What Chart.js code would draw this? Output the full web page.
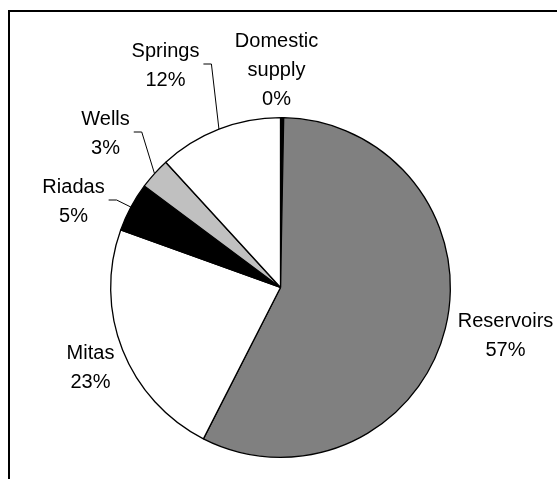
<!DOCTYPE html>
<html>
<head>
<meta charset="utf-8">
<title>Water sources</title>
<script src="https://cdn.jsdelivr.net/npm/chart.js@4/dist/chart.umd.min.js"></script>
<style>
  html, body { margin: 0; padding: 0; background: #fff; }
  #wrap { position: relative; width: 557px; height: 479px; }
</style>
</head>
<body>
<div id="wrap"><canvas id="chart"></canvas></div>
<script>
// Share of water supply by source (%), clockwise from 12 o'clock
var categories = ['Domestic supply', 'Reservoirs', 'Mitas', 'Riadas', 'Wells', 'Springs'];
var shares = [0.3, 57.2, 23.0, 4.7, 3.0, 11.8];
var labelLines = [['Domestic', 'supply'], ['Reservoirs'], ['Mitas'], ['Riadas'], ['Wells'], ['Springs']];

(function() {
  'use strict';

  var FONT = '20px "Liberation Sans", Arial, sans-serif';
  var LINE_GAP = 29;

  var sliceColors = ['#000000', '#808080', '#ffffff', '#000000', '#c0c0c0', '#ffffff'];

  // label placement relative to the pie centre: centre x of text, baseline of first line
  var labelSpots = [
    { dx: -4, dy: -241, leader: false },
    { dx: 225, dy: 39, leader: false },
    { dx: -190, dy: 71, leader: false },
    { dx: -207, dy: -95, leader: true },
    { dx: -175, dy: -163, leader: true },
    { dx: -115, dy: -231, leader: true }
  ];

  function percentText(i) {
    var total = shares.reduce(function(a, b) { return a + b; }, 0);
    return Math.round(shares[i] / total * 100) + '%';
  }

  var framePlugin = {
    id: 'frame',
    beforeDraw: function(chart) {
      var ctx = chart.ctx;
      ctx.save();
      ctx.strokeStyle = '#000';
      ctx.lineWidth = 2;
      ctx.beginPath();
      ctx.moveTo(9, chart.height);
      ctx.lineTo(9, 11);
      ctx.lineTo(chart.width, 11);
      ctx.stroke();
      ctx.restore();
    }
  };

  var labelPlugin = {
    id: 'sliceLabels',
    afterDatasetsDraw: function(chart) {
      var ctx = chart.ctx;
      var arcs = chart.getDatasetMeta(0).data;
      ctx.save();
      ctx.font = FONT;
      ctx.fillStyle = '#000';
      ctx.textAlign = 'center';
      ctx.textBaseline = 'alphabetic';

      arcs.forEach(function(arc, i) {
        var spot = labelSpots[i];
        var lines = labelLines[i].concat([percentText(i)]);
        var cx = arc.x + spot.dx;
        var y0 = arc.y + spot.dy;
        var widest = 0;
        lines.forEach(function(t, k) {
          ctx.fillText(t, cx, y0 + k * LINE_GAP);
          widest = Math.max(widest, ctx.measureText(t).width);
        });

        if (spot.leader) {
          var mid = (arc.startAngle + arc.endAngle) / 2;
          var ex = arc.x + Math.cos(mid) * arc.outerRadius;
          var ey = arc.y + Math.sin(mid) * arc.outerRadius;
          var sx = cx + widest / 2 + 4;
          var sy = (y0 - 14 + y0 + (lines.length - 1) * LINE_GAP) / 2;
          ctx.strokeStyle = '#000';
          ctx.lineWidth = 1;
          ctx.beginPath();
          ctx.moveTo(sx, sy);
          ctx.lineTo(sx + 8, sy);
          ctx.lineTo(ex, ey);
          ctx.stroke();
        }
      });
      ctx.restore();
    }
  };

  var ctx = document.getElementById('chart').getContext('2d');
  new Chart(ctx, {
    type: 'pie',
    data: {
      labels: categories,
      datasets: [{
        data: shares,
        backgroundColor: sliceColors,
        borderColor: '#000',
        borderWidth: 1.3
      }]
    },
    options: {
      responsive: true,
      maintainAspectRatio: false,
      animation: false,
      layout: { padding: { left: 110, top: 117, right: 106, bottom: 21 } },
      plugins: {
        legend: { display: false },
        tooltip: { enabled: false }
      }
    },
    plugins: [framePlugin, labelPlugin]
  });
})();
</script>
</body>
</html>
